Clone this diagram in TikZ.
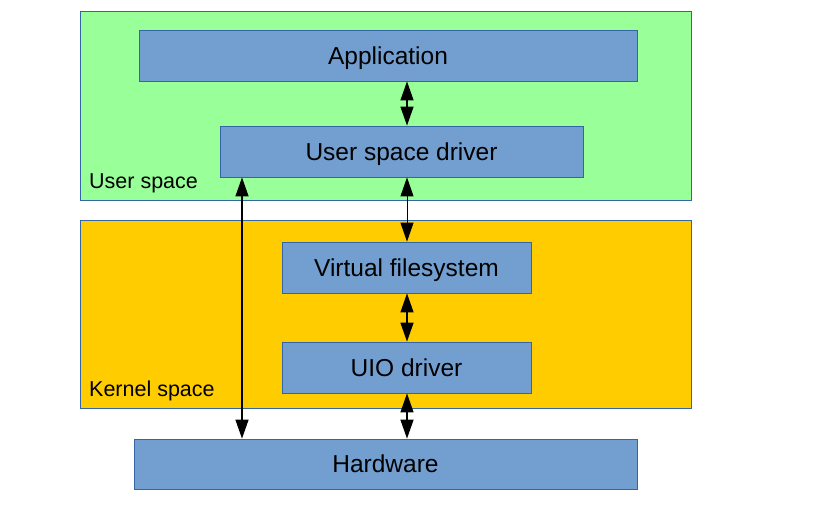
\documentclass[tikz,border=0pt]{standalone}
\usepackage{fontspec}
\setmainfont{Liberation Sans}
\usetikzlibrary{arrows.meta}
\definecolor{usergreen}{HTML}{99FF99}
\definecolor{kernelyellow}{HTML}{FFCC00}
\definecolor{boxblue}{HTML}{729FCF}
\definecolor{edgeblue}{HTML}{3465A4}
\begin{document}
\begin{tikzpicture}[x=1pt,y=-1pt,
  region/.style={draw=edgeblue,line width=0.8pt},
  block/.style={draw=edgeblue,line width=0.8pt,fill=boxblue,inner sep=0pt,text height=17.5pt,text depth=0pt,font=\fontsize{24.5}{28}\selectfont},
  lbl/.style={anchor=base west,inner sep=0pt,font=\fontsize{21.5}{25}\selectfont},
  conn/.style={line width=1.4pt,{Triangle[width=13pt,length=19pt]}-{Triangle[width=13pt,length=19pt]}},
  connthin/.style={line width=1pt,{Triangle[width=13pt,length=19pt]}-{Triangle[width=13pt,length=19pt]}}]
\useasboundingbox (0,0) rectangle (816,504);
\fill[white] (0,0) rectangle (816,504);
\filldraw[region,fill=usergreen] (80,11) rectangle (691,200);
\filldraw[region,fill=kernelyellow] (80,220) rectangle (691,408);
\node[lbl] (ul) at (89,188.5) {User space};
\node[lbl] (kl) at (89,396) {Kernel space};
\node[block,minimum width=498pt,minimum height=51pt] (app) at (388,55.5) {Application};
\node[block,minimum width=363pt,minimum height=51pt] (usd) at (401.5,151.5) {User space driver};
\node[block,minimum width=249pt,minimum height=51pt] (vfs) at (406.5,267.5) {Virtual filesystem};
\node[block,minimum width=249pt,minimum height=51pt] (uio) at (406.5,367.5) {UIO driver};
\node[block,minimum width=503pt,minimum height=50pt] (hw) at (385.5,464) {Hardware};
\draw[conn] (app.south -| 407,0) -- (usd.north -| 407,0);
\draw[connthin] (usd.south -| 407,0) -- (vfs.north -| 407,0);
\draw[conn] (vfs.south -| 407,0) -- (uio.north -| 407,0);
\draw[conn] (uio.south -| 407,0) -- (hw.north -| 407,0);
\draw[conn] (usd.south -| 242,0) -- (hw.north -| 242,0);
\end{tikzpicture}
\end{document}
